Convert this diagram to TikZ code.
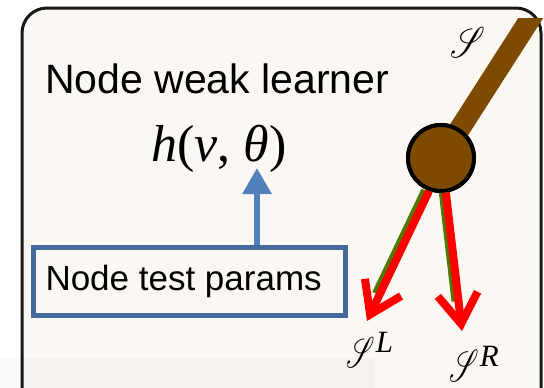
\documentclass[tikz,border=0pt]{standalone}
\usepackage{fontspec}
\setmainfont{Liberation Sans}
\newfontfamily\timesfont{Liberation Serif}
\usepackage{mathrsfs}
\usetikzlibrary{positioning,arrows.meta}

\definecolor{panel}{HTML}{FBF7F3}
\definecolor{trunk}{HTML}{7D4A00}
\definecolor{testblue}{HTML}{44699B}
\definecolor{upblue}{HTML}{5282BE}
\definecolor{splitgreen}{HTML}{4F7A00}

\newcommand{\setsym}[2]{\scalebox{#1}[#2]{$\mathscr{S}$}}
\newcommand{\supsym}[1]{\kern1pt\raisebox{15pt}{\fontsize{31}{36}\selectfont\timesfont\itshape #1}}

\begin{document}
\begin{tikzpicture}[x=1pt, y=-1pt,
  big/.style={inner sep=0pt, font=\fontsize{41}{46}\selectfont},
  params/.style={draw=testblue, line width=5pt, minimum height=68pt,
    inner xsep=12pt, inner ysep=0pt, font=\fontsize{35}{40}\selectfont},
  split/.style={red, line width=8pt, -{Straight Barb[length=30pt, width=40pt]}},
  shadow/.style={splitgreen, line width=10pt, shorten >=30pt},
  sym/.style={inner sep=0pt, anchor=base west}]
  \useasboundingbox (0,0) rectangle (544,388);
  \fill[white] (0,0) rectangle (544,388);
  % frame of the panel
  \draw[fill=panel, draw=black!90, line width=3pt, rounded corners=25pt] (22,8) rectangle (541,420);
  \node[big, anchor=base west] (title) at (45,93) {Node weak learner};
  \node[inner sep=0pt, anchor=base west, font=\fontsize{52}{56}\selectfont\timesfont] (hv) at (151,161)
    {\itshape h\upshape(\itshape v\upshape, \itshape θ\upshape)};
  \node[params] (tp) at (189.5,281.5) {\makebox[288pt][l]{Node test params}};
  \coordinate (tip) at (257,168);
  \draw[upblue, line width=6pt, -{Triangle[width=28pt, length=26pt]}] (tip |- tp.north) -- (tip);
  % split node with its incoming edge
  \node[circle, draw=black, line width=4pt, fill=trunk, minimum size=66pt, inner sep=0pt] (nd) at (441,158) {};
  \coordinate (top) at (541,2);
  \begin{scope}
    \clip (0,18) rectangle (544,388);
    \draw[trunk, line width=21pt] (nd.center) -- (top);
  \end{scope}
  \node[circle, draw=black, line width=4pt, fill=trunk, minimum size=66pt, inner sep=0pt] at (nd) {};
  \coordinate (lend) at (367,321);
  \coordinate (rend) at (462,331);
  \draw[shadow] ([xshift=-3pt]nd.-110) -- ([xshift=-3pt]lend);
  \draw[shadow] ([xshift=-2pt]nd.-82) -- ([xshift=-2pt]rend);
  \draw[split] (nd.-110) -- (lend);
  \draw[split] (nd.-82) -- (rend);
  \node[sym] (s) at (450,57) {\setsym{3.3}{4.3}};
  \node[sym] (sl) at (346,367) {\setsym{2.7}{4.3}\supsym{L}};
  \node[sym] (sr) at (449,381) {\setsym{2.8}{4.5}\supsym{R}};
  \fill[black, fill opacity=0.025] (0,358) rectangle (375,388);
\end{tikzpicture}
\end{document}
